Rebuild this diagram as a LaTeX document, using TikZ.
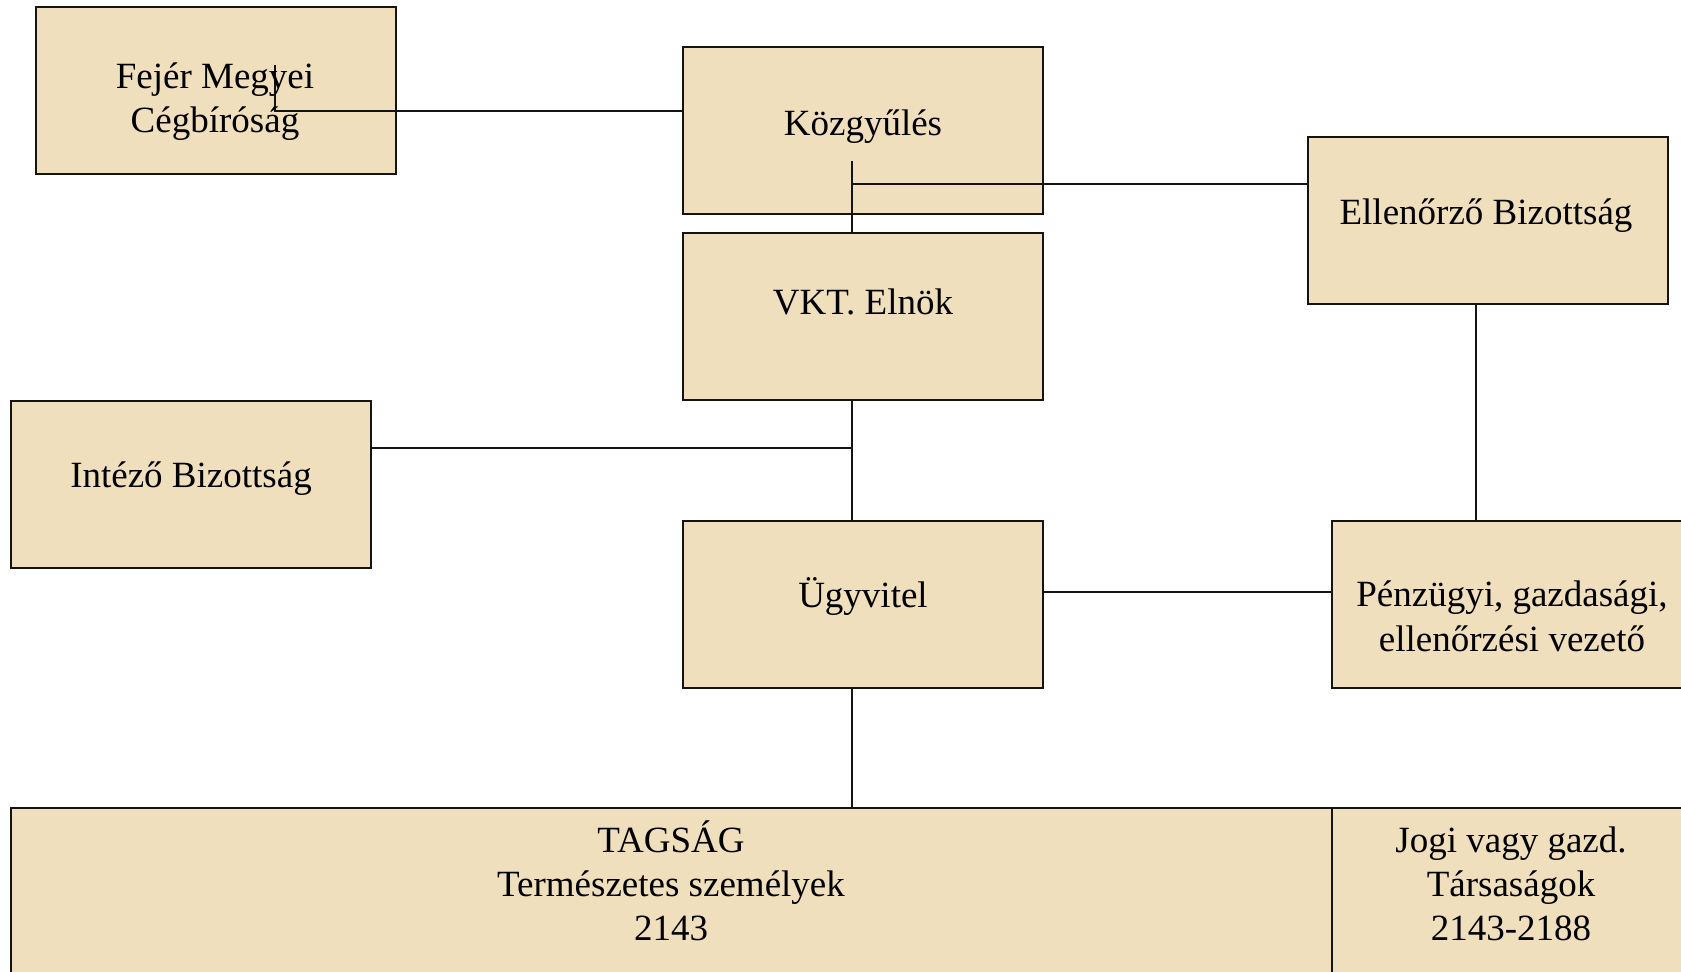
\documentclass[tikz,border=0pt]{standalone}
\usepackage{fontspec}
\setmainfont{Liberation Serif}
\usetikzlibrary{positioning}
\definecolor{parchment}{RGB}{239,223,188}
\definecolor{ink}{RGB}{20,20,20}

\begin{document}
\begin{tikzpicture}[
    x=0.5pt, y=-0.5pt,
    box/.style={rectangle,
        draw=ink,
        fill=parchment,
        line width=1pt,
        minimum width=180pt,
        minimum height=83.5pt,
        inner sep=0pt,
        },
    wide_box/.style={box,
        minimum width=660.5pt,
        minimum height=146pt,
        },
    txt/.style={anchor=base,
        align=center,
        inner sep=0pt,
        font=\fontsize{18.5}{22}\selectfont,
        },
    conn/.style={line width=0.75pt, color=ink},
    ]
    \useasboundingbox (0,0) rectangle (1681,972);
    \clip (0,0) rectangle (1681,972);

    % boxes
    \node[box] (n_fejer) at (215.5,91) {};
    \node[box] (n_kozgy) at (863,131) {};
    \node[box] (n_vkt) at (863,316.5) {};
    \node[box] (n_ellen) at (1487.5,220.5) {};
    \node[box] (n_intezo) at (191,484.5) {};
    \node[box] (n_ugy) at (863,604.5) {};
    \node[box] (n_penz) at (1512,604.5) {};
    \node[wide_box] (n_tagsag) at (671.5,954) {};
    \node[box, minimum height=146pt] (n_jogi) at (1512,954) {};

    % connectors
    \coordinate (c_fejer) at (275,65);
    \coordinate (c_kozgy) at (852,161);
    \coordinate (c_kjoin) at (852,184);
    \coordinate (c_intezo) at (852,448);
    \coordinate (c_ellen) at (1476,0);
    \coordinate (c_ugy) at (0,592);
    \draw[conn] (c_fejer) |- (n_kozgy.west |- 0,111);
    \draw[conn] (c_kozgy) -- (c_kozgy |- n_vkt.north);
    \draw[conn] (c_kjoin) -- (c_kjoin -| n_ellen.west);
    \draw[conn] (c_kozgy |- n_vkt.south) -- (c_kozgy |- n_ugy.north);
    \draw[conn] (c_intezo -| n_intezo.east) -- (c_intezo);
    \draw[conn] (n_ellen.south -| c_ellen) -- (n_penz.north -| c_ellen);
    \draw[conn] (n_ugy.east |- c_ugy) -- (n_penz.west |- c_ugy);
    \draw[conn] (c_kozgy |- n_ugy.south) -- (c_kozgy |- n_tagsag.north);

    % texts (base = last line)
    \node[txt] (t_fejer) at (215,133) {Fejér Megyei\\Cégbíróság};
    \node[txt] (t_kozgy) at (863,136) {Közgyűlés};
    \node[txt] (t_vkt) at (863,315) {VKT. Elnök};
    \node[txt] (t_ellen) at (1486,225) {Ellenőrző Bizottság};
    \node[txt] (t_intezo) at (191,488) {Intéző Bizottság};
    \node[txt] (t_ugy) at (863,608) {Ügyvitel};
    \node[txt] (t_penz) at (1512,651) {Pénzügyi, gazdasági,\\ellenőrzési vezető};
    \node[txt] (t_tagsag) at (671,940) {TAGSÁG\\Természetes személyek\\2143};
    \node[txt] (t_jogi) at (1511,940) {Jogi vagy gazd.\\Társaságok\\2143-2188};

\end{tikzpicture}
\end{document}
